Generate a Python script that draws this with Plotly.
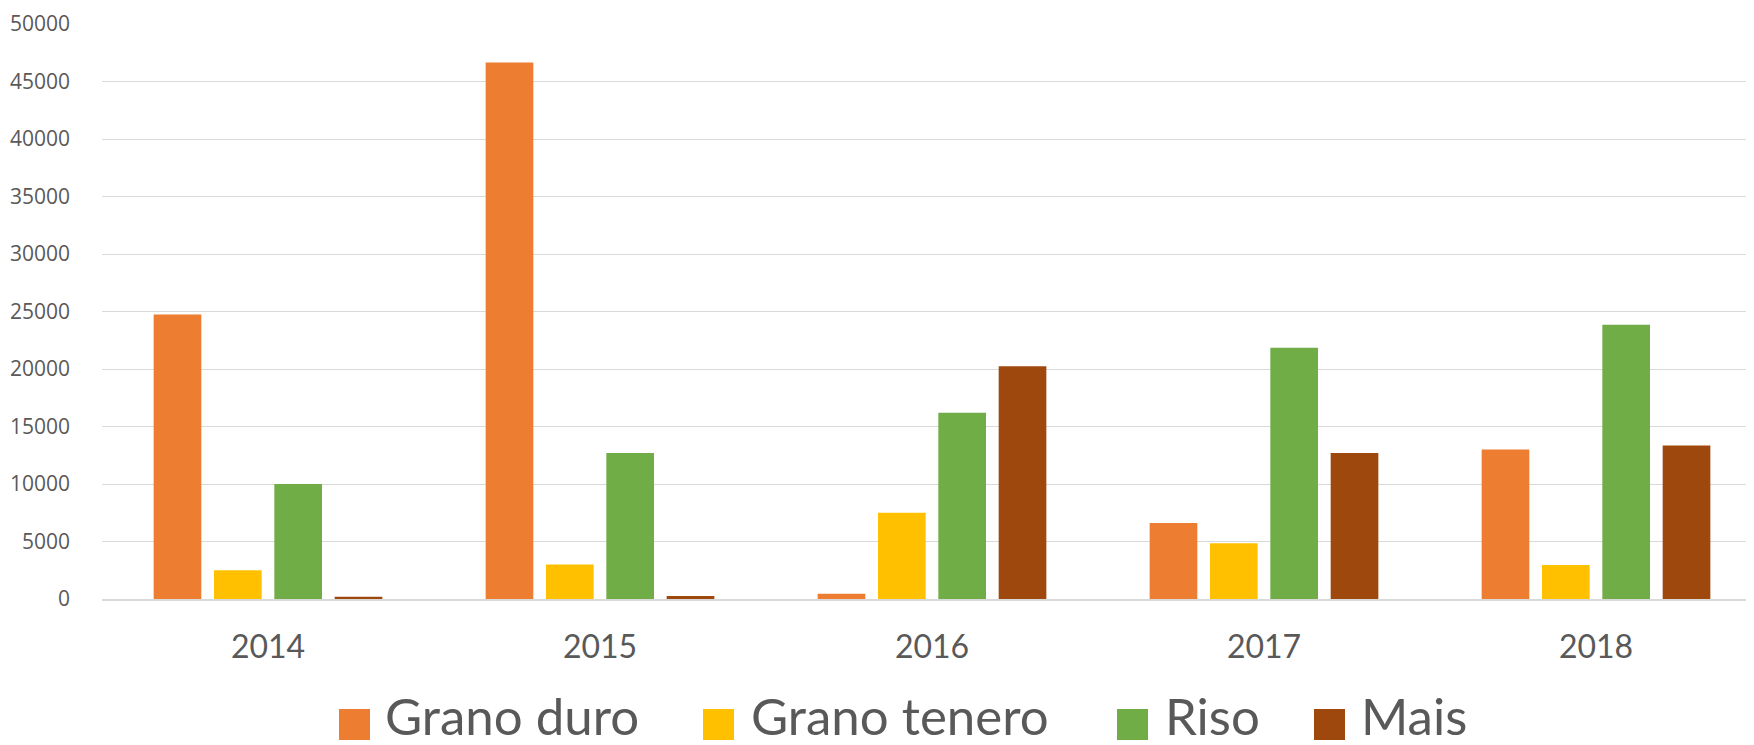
import plotly.graph_objects as go

years = ["2014", "2015", "2016", "2017", "2018"]
series_names = ["Grano duro", "Grano tenero", "Riso", "Mais"]
grano_duro = [24750, 46650, 450, 6600, 13000]
grano_tenero = [2500, 3000, 7500, 4850, 2950]
riso = [10000, 12700, 16200, 21850, 23850]
mais = [200, 270, 20250, 12700, 13350]
y_ticks = [0, 5000, 10000, 15000, 20000, 25000, 30000, 35000, 40000, 45000, 50000]

colors = ["#ED7D31", "#FFC000", "#70AD47", "#9E480E"]
values = [grano_duro, grano_tenero, riso, mais]

W, H = 1754, 745
L, T, B = 94, 16, 591
plot_w = W - L
plot_h = B - T

fig = go.Figure()
for name, vals, col in zip(series_names, values, colors):
    fig.add_trace(go.Bar(x=years, y=vals, name=name, marker_color=col,
                         marker_line_width=0, showlegend=False))

def px_x(p):
    return (p - L) / plot_w

def px_y(p):
    return (B - p) / plot_h

# manual legend (large swatches like the original)
swatch_x = [331, 695, 1109, 1306]
text_x = [376, 742, 1156, 1352]
sw_top, sw_bot = 701, 732
shapes = []
annotations = []
for name, col, sx, tx in zip(series_names, colors, swatch_x, text_x):
    shapes.append(dict(type="rect", xref="paper", yref="paper",
                       x0=px_x(sx), x1=px_x(sx + 31), y0=px_y(sw_bot), y1=px_y(sw_top),
                       fillcolor=col, line_width=0))
    annotations.append(dict(xref="paper", yref="paper", x=px_x(tx), y=px_y(707),
                            xanchor="left", yanchor="middle", showarrow=False, text=name,
                            borderpad=0,
                            font=dict(family="Lato", size=51, color="#595959")))

fig.update_layout(
    width=W, height=H,
    margin=dict(l=L, r=0, t=T, b=H - B, pad=0),
    paper_bgcolor="white", plot_bgcolor="white",
    barmode="group", bargap=0.273, bargroupgap=0.21,
    shapes=shapes, annotations=annotations,
    xaxis=dict(type="category", range=[-0.5, -0.5 + plot_w / 332.0],
               showgrid=False, showline=True, linecolor="#D9D9D9", linewidth=2,
               ticks="", ticklabelstandoff=19,
               tickfont=dict(family="Lato", size=32, color="#595959")),
    yaxis=dict(range=[0, 50000], tickvals=y_ticks, ticktext=[str(v) for v in y_ticks],
               showgrid=True, gridcolor="#D9D9D9", gridwidth=1.3,
               zeroline=False, showline=False, ticks="", ticklabelstandoff=31,
               tickfont=dict(family="Open Sans", size=21, color="#595959")),
)

fig.write_html("out.html")
